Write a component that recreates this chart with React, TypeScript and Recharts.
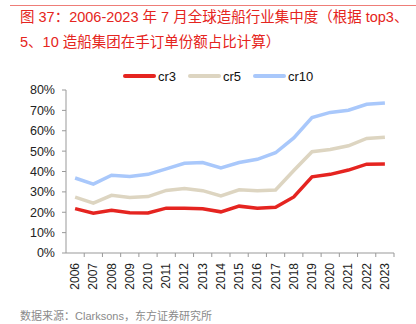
import React from 'react';
import { LineChart, Line, XAxis, YAxis } from 'recharts';

const years = ['2006', '2007', '2008', '2009', '2010', '2011', '2012', '2013', '2014', '2015', '2016', '2017', '2018', '2019', '2020', '2021', '2022', '2023'];
const cr3 = [21.8, 19.5, 21, 19.8, 19.6, 22, 22, 21.7, 20.2, 23, 22, 22.5, 27.5, 37.4, 38.6, 40.7, 43.6, 43.7];
const cr5 = [27.4, 24.5, 28.3, 27.2, 27.7, 30.7, 31.6, 30.6, 28, 31, 30.5, 30.9, 40.5, 49.7, 50.8, 52.6, 56.2, 56.8];
const cr10 = [36.8, 33.8, 38.2, 37.6, 38.6, 41.3, 44, 44.4, 41.7, 44.4, 46, 49.2, 56.5, 66.5, 69, 70.1, 73, 73.6];
const yTicks = [0, 10, 20, 30, 40, 50, 60, 70, 80];

const series = [
  { key: 'cr3', color: '#e52420' },
  { key: 'cr5', color: '#ddd5c1' },
  { key: 'cr10', color: '#a9c8fb' },
];

const data = years.map((y, i) => ({ year: y, cr3: cr3[i], cr5: cr5[i], cr10: cr10[i] }));

const font = 'Arial, "Liberation Sans", "Noto Sans CJK SC", sans-serif';

// year label rotated, tick mark drawn at band boundary
const YearTick = (props: any) => {
  const { x, y, payload, width, visibleTicksCount } = props;
  const half = width / visibleTicksCount / 2;
  return (
    <g>
      <line x1={x + half} x2={x + half} y1={y - 8} y2={y - 4} stroke="#999" />
      <text
        x={x}
        y={y + 2}
        transform={`rotate(-90, ${x}, ${y + 2})`}
        textAnchor="end"
        dominantBaseline="central"
        fontSize={12}
        fill="#222"
        fontFamily={font}
      >
        {payload.value}
      </text>
    </g>
  );
};

export default function App() {
  return (
    <div style={{ position: 'absolute', left: 0, top: 0, width: 416, height: 324, background: '#fff', overflow: 'hidden' }}>
      <div style={{ position: 'absolute', left: 10, right: 0, top: 5, height: 1, background: '#ee7d78' }} />
      <div
        style={{
          position: 'absolute',
          left: 20,
          top: 5,
          width: 400,
          fontFamily: font,
          fontSize: 14.5,
          lineHeight: '25px',
          color: '#e52420',
          whiteSpace: 'nowrap',
        }}
      >
        <div>图 37：2006-2023 年 7 月全球造船行业集中度（根据 top3、</div>
        <div>5、10 造船集团在手订单份额占比计算）</div>
      </div>

      <div style={{ position: 'absolute', left: 0, top: 67, width: 416, height: 18 }}>
        {series.map((s, i) => (
          <div
            key={s.key}
            style={{ position: 'absolute', left: [123, 188, 253][i], top: 0, display: 'flex', alignItems: 'center', height: 18 }}
          >
            <div style={{ width: 33, height: 4, background: s.color, borderRadius: 2 }} />
            <span style={{ marginLeft: 2, fontFamily: font, fontSize: 13, color: '#111' }}>{s.key}</span>
          </div>
        ))}
      </div>

      <div style={{ position: 'absolute', left: 0, top: 0 }}>
        <LineChart width={416} height={300} data={data} margin={{ top: 90, right: 22, bottom: 0, left: 6 }}>
          <YAxis
            domain={[0, 80]}
            ticks={yTicks}
            interval={0}
            tickFormatter={(v: number) => `${v}%`}
            width={60}
            tickSize={4}
            tickMargin={7}
            stroke="#999"
            tick={{ fill: '#222', fontSize: 12.5, fontFamily: font }}
          />
          <XAxis
            dataKey="year"
            scale="band"
            interval={0}
            tickLine={false}
            stroke="#999"
            height={47}
            tick={<YearTick />}
          />
          {series.map(s => (
            <Line
              key={s.key}
              type="linear"
              dataKey={s.key}
              stroke={s.color}
              strokeWidth={3.5}
              dot={false}
              isAnimationActive={false}
            />
          ))}
        </LineChart>
      </div>

      <div
        style={{
          position: 'absolute',
          left: 20,
          top: 307,
          fontFamily: font,
          fontSize: 11,
          color: '#8a8a8a',
          whiteSpace: 'nowrap',
        }}
      >
        数据来源：Clarksons，东方证券研究所
      </div>
    </div>
  );
}
